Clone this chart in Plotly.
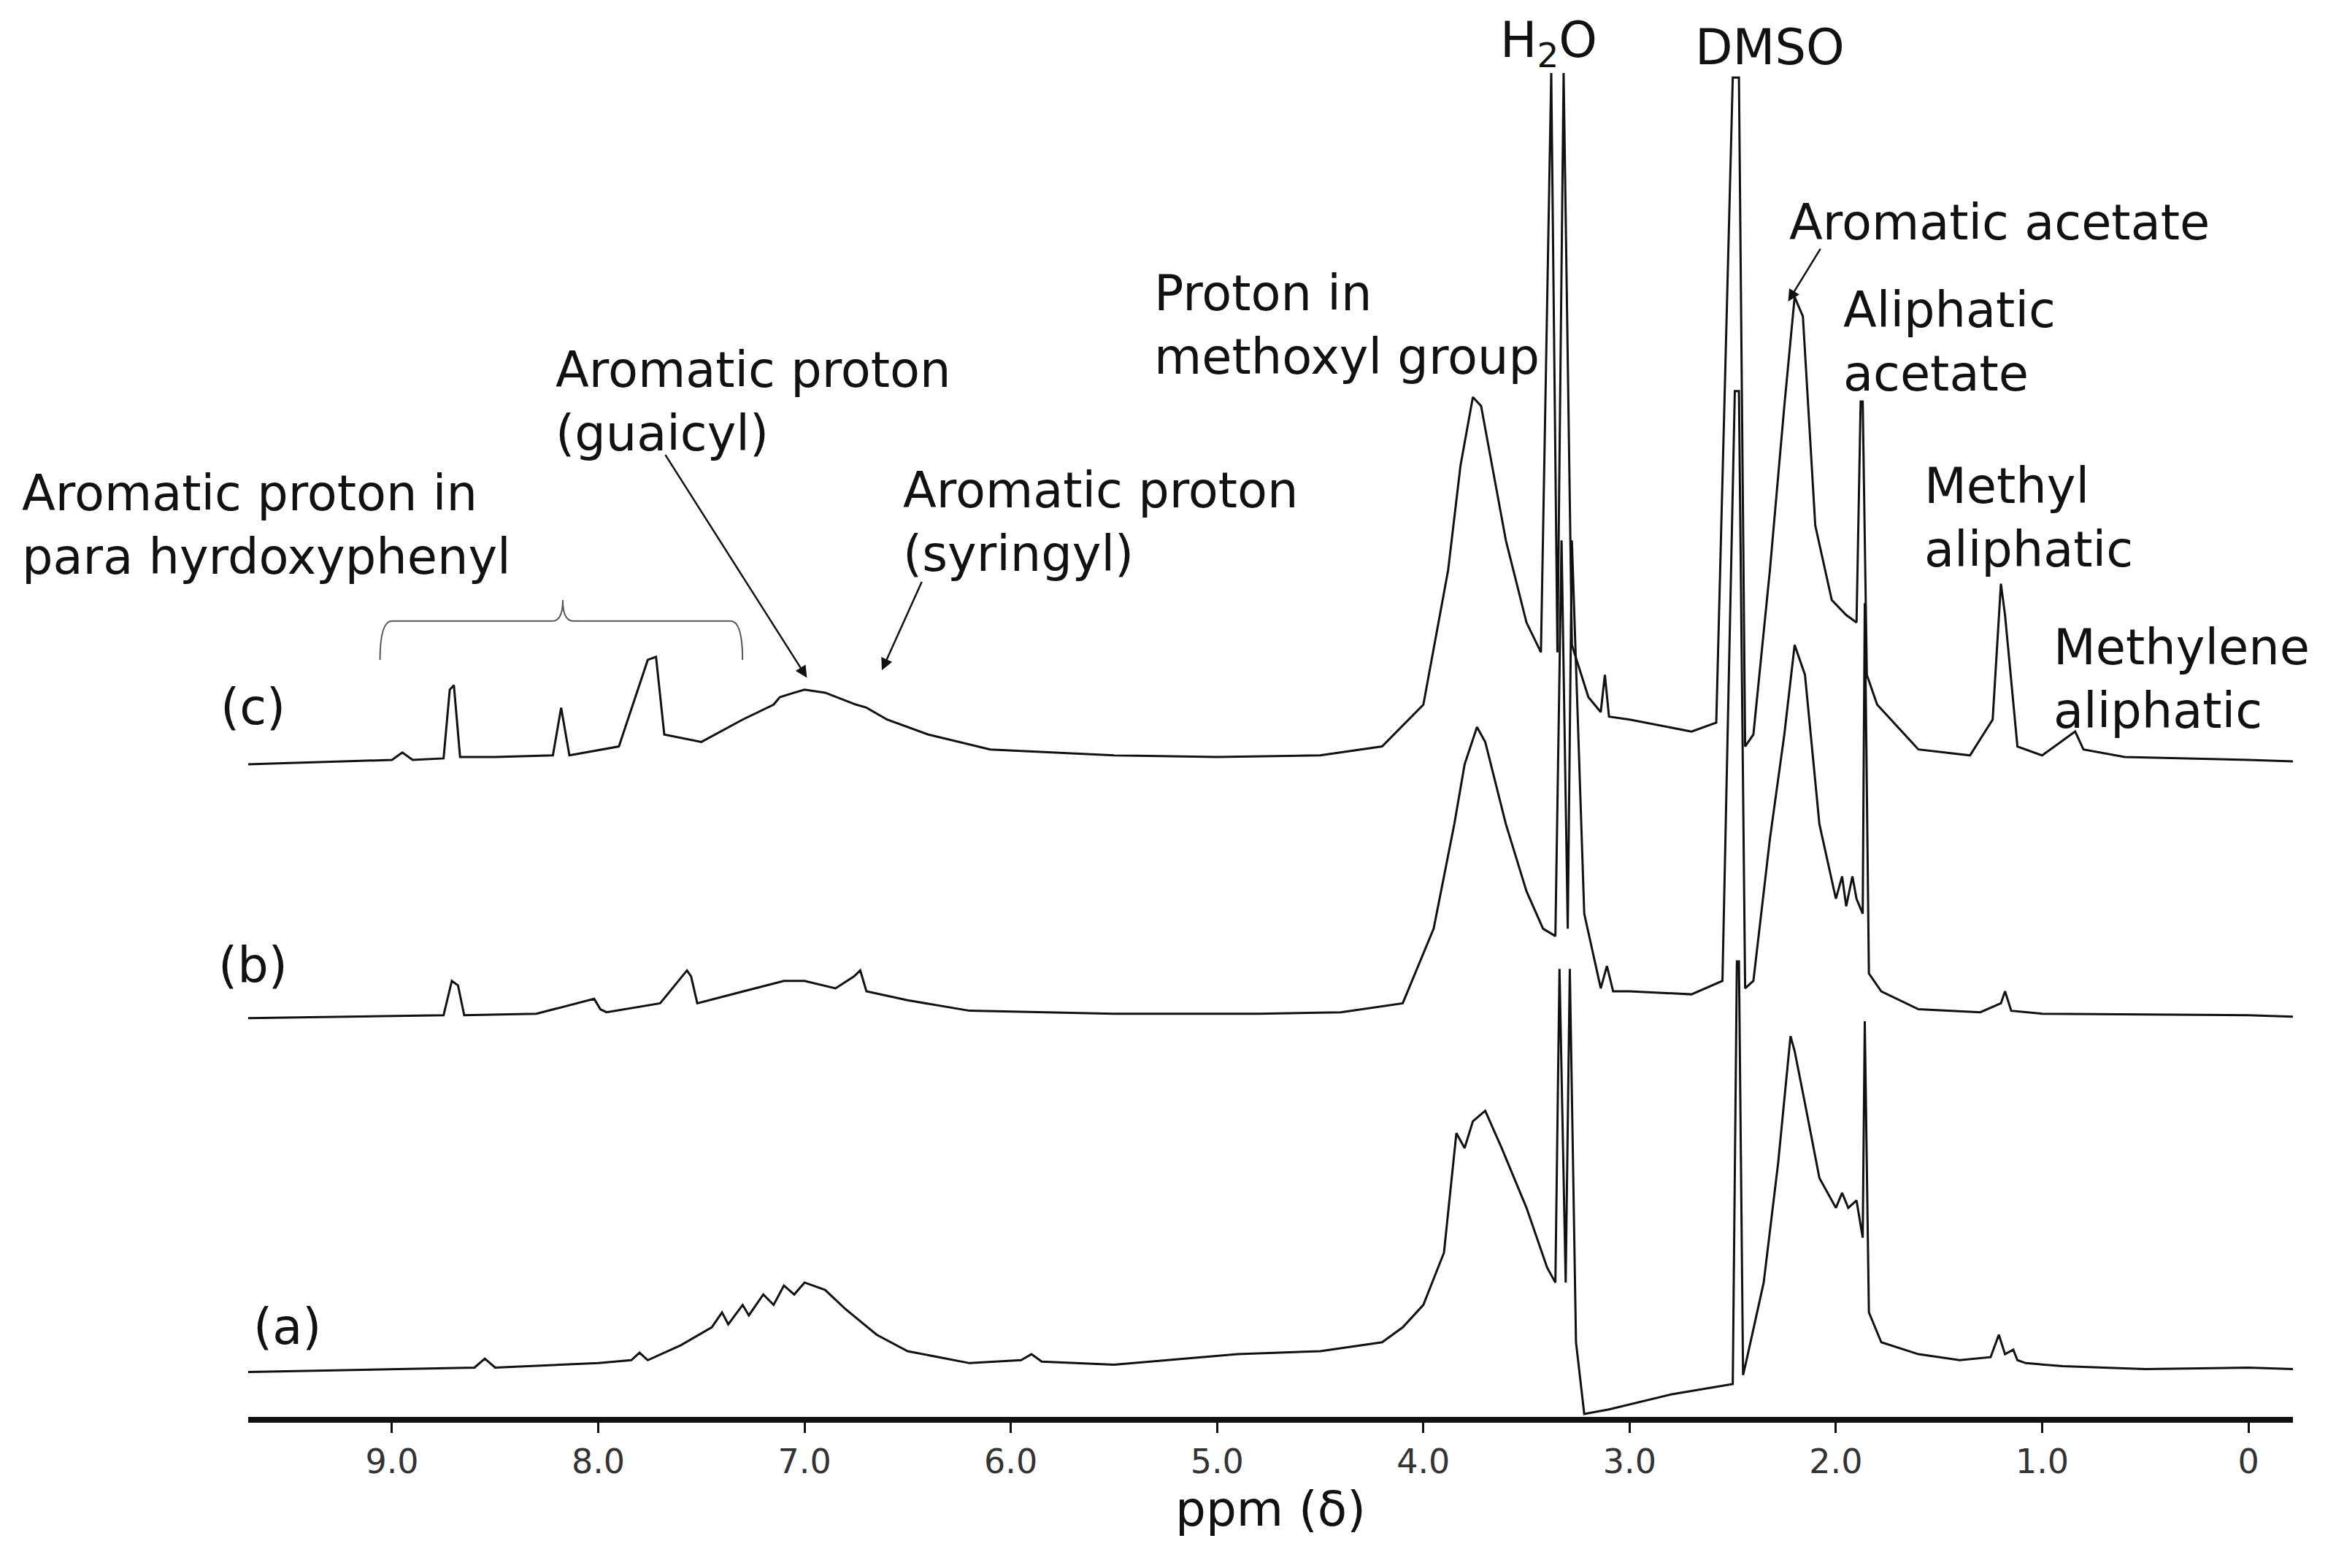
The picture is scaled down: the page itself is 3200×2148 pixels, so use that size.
import plotly.graph_objects as go

# spectrum (a) : ppm, height above its baseline
ppm_a = [9.70, 9.0, 8.6, 8.55, 8.5, 8.0, 7.84, 7.80, 7.76, 7.6, 7.45, 7.40, 7.37, 7.30, 7.27, 7.20, 7.15, 7.10, 7.05, 7.0, 6.9, 6.8, 6.65, 6.5, 6.2, 5.95, 5.9, 5.85, 5.5,
         4.9, 4.5, 4.2, 4.1, 4.0, 3.9, 3.84, 3.80, 3.76, 3.70, 3.62, 3.5, 3.4, 3.36, 3.34, 3.31, 3.29, 3.26, 3.22, 3.1, 2.8, 2.5, 2.48, 2.47, 2.45, 2.43,
         2.35, 2.28, 2.22, 2.20, 2.15, 2.08, 2.0, 1.97, 1.94, 1.90, 1.87, 1.86, 1.84, 1.78, 1.6, 1.4, 1.25, 1.21, 1.18, 1.14, 1.12, 1.08, 0.9, 0.5, 0.0, -0.22]
h_a = [0, 2, 3, 9, 3, 6, 8, 13, 8, 18, 30, 40, 32, 45, 38, 52, 45, 58, 52, 60, 55, 42, 25, 14, 6, 8, 12, 7, 5,
       12, 14, 20, 30, 45, 80, 160, 150, 168, 175, 150, 110, 70, 60, 270, 60, 270, 20, -28, -25, -15, -8, 275, 275, -2, 10,
       60, 140, 225, 215, 180, 130, 110, 120, 110, 115, 90, 235, 40, 20, 12, 8, 10, 25, 12, 15, 8, 6, 4, 2, 3, 2]

# spectrum (b)
ppm_b = [9.70, 8.75, 8.71, 8.68, 8.65, 8.3, 8.02, 7.99, 7.96, 7.7, 7.57, 7.55, 7.52, 7.3, 7.1, 7.0, 6.85, 6.76, 6.73, 6.70, 6.5, 6.2, 5.5, 4.8, 4.4, 4.1,
         3.95, 3.85, 3.80, 3.74, 3.70, 3.6, 3.5, 3.42, 3.36, 3.33, 3.30, 3.28, 3.22, 3.14, 3.11, 3.08, 3.0, 2.7, 2.55, 2.49, 2.47, 2.44, 2.40,
         2.32, 2.25, 2.20, 2.15, 2.08, 2.0, 1.97, 1.95, 1.92, 1.90, 1.87, 1.86, 1.84, 1.78, 1.6, 1.3, 1.20, 1.18, 1.15, 1.0, 0.0, -0.22]
h_b = [0, 2, 25, 22, 2, 3, 13, 6, 4, 10, 32, 28, 10, 18, 25, 25, 20, 28, 32, 18, 12, 5, 3, 3, 4, 10,
       60, 130, 170, 195, 185, 130, 85, 60, 55, 320, 60, 320, 70, 20, 35, 18, 18, 16, 25, 420, 420, 20, 25,
       120, 190, 250, 230, 130, 80, 95, 75, 95, 80, 70, 278, 30, 18, 6, 4, 10, 18, 5, 3, 2, 1]

# spectrum (c)
ppm_c = [9.70, 9.0, 8.95, 8.9, 8.75, 8.72, 8.70, 8.67, 8.5, 8.22, 8.18, 8.14, 7.9, 7.76, 7.72, 7.68, 7.5, 7.3, 7.15, 7.12, 7.05, 7.0, 6.9, 6.75, 6.70, 6.6, 6.4, 6.1, 5.5, 5.0,
         4.5, 4.2, 4.0, 3.88, 3.82, 3.76, 3.72, 3.6, 3.5, 3.43, 3.38, 3.35, 3.32, 3.28, 3.20, 3.14, 3.12, 3.10, 3.0, 2.7, 2.58, 2.50, 2.47, 2.44, 2.40,
         2.32, 2.25, 2.20, 2.16, 2.10, 2.02, 1.95, 1.90, 1.88, 1.87, 1.85, 1.80, 1.6, 1.35, 1.24, 1.20, 1.18, 1.12, 1.0, 0.88, 0.84, 0.80, 0.6, 0.0, -0.22]
h_c = [0, 3, 8, 3, 4, 50, 53, 5, 5, 6, 38, 6, 12, 70, 72, 20, 15, 30, 40, 45, 48, 50, 48, 40, 38, 30, 20, 10, 6, 5,
       6, 12, 40, 130, 200, 246, 240, 150, 95, 75, 463, 75, 463, 80, 45, 35, 60, 32, 30, 22, 28, 460, 460, 12, 20,
       130, 240, 313, 300, 160, 110, 100, 95, 243, 243, 60, 40, 10, 6, 30, 121, 100, 12, 6, 18, 22, 10, 5, 3, 2]

offsets = {"a": 30, "b": 267, "c": 437}
spectra = {"a": (ppm_a, h_a), "b": (ppm_b, h_b), "c": (ppm_c, h_c)}

tick_vals = [9, 8, 7, 6, 5, 4, 3, 2, 1, 0]
tick_text = ["9.0", "8.0", "7.0", "6.0", "5.0", "4.0", "3.0", "2.0", "1.0", "0"]

S = 2.051
FONT = "DejaVu Sans, Arial, sans-serif"


def px(x):
    # image column (1560-wide reference) -> ppm
    return 9 - (x - 258) / 137.7


def py(y):
    return 945 - y


fig = go.Figure()
for key, (xs, hs) in spectra.items():
    fig.add_trace(go.Scatter(x=xs, y=[h + offsets[key] for h in hs], mode="lines",
                             line=dict(color="#111111", width=3), showlegend=False))

labels = [
    ("H<sub>2</sub>O", 1030, 25, "center"),
    ("DMSO", 1178, 28, "center"),
    ("Aromatic acetate", 1190, 145, "left"),
    ("Aliphatic<br>acetate", 1226, 225, "left"),
    ("Methyl<br>aliphatic", 1280, 343, "left"),
    ("Methylene<br>aliphatic", 1366, 451, "left"),
    ("Proton in<br>methoxyl group", 766, 214, "left"),
    ("Aromatic proton<br>(guaicyl)", 366, 265, "left"),
    ("Aromatic proton<br>(syringyl)", 598, 346, "left"),
    ("Aromatic proton in<br>para hyrdoxyphenyl", 10, 348, "left"),
    ("(c)", 165, 470, "center"),
    ("(b)", 165, 643, "center"),
    ("(a)", 188, 885, "center"),
]
for text, x, y, anchor in labels:
    fig.add_annotation(x=(x - 162) / (1527 - 162), y=(945 - y) / 945, xref="paper", yref="paper",
                       text=text, showarrow=False, xanchor=anchor, yanchor="middle",
                       align="left", font=dict(family=FONT, size=67, color="#111111"))

arrows = [((440, 300), (535, 450)), ((612, 385), (585, 445)), ((1212, 162), (1190, 198))]
for (x0, y0), (x1, y1) in arrows:
    fig.add_annotation(x=px(x1), y=py(y1), ax=px(x0), ay=py(y0), axref="x", ayref="y",
                       text="", showarrow=True, arrowhead=2, arrowsize=1.3, arrowwidth=2.5, arrowcolor="#111111")

# curly brace over the para-hydroxyphenyl peaks
bx = [px(250), px(258), px(365), px(372), px(379), px(484), px(492)]
by = [py(438), py(412), py(412), py(398), py(412), py(412), py(438)]
path = f"M {bx[0]},{by[0]} Q {bx[0]},{by[1]} {bx[1]},{by[1]} L {bx[2]},{by[2]} Q {bx[3]},{by[2]} {bx[3]},{by[3]} " \
       f"Q {bx[3]},{by[4]} {bx[4]},{by[4]} L {bx[5]},{by[5]} Q {bx[6]},{by[5]} {bx[6]},{by[6]}"
fig.add_shape(type="path", path=path, xref="x", yref="y", line=dict(color="#555555", width=2))

fig.update_layout(
    width=3200, height=2148,
    margin=dict(l=int(162 * S), r=int(33 * S), t=0, b=int(105 * S)),
    plot_bgcolor="white", paper_bgcolor="white",
    xaxis=dict(range=[px(162), px(1527)], tickvals=tick_vals, ticktext=tick_text,
               showgrid=False, zeroline=False, showline=True, linecolor="#111111", linewidth=8,
               ticks="outside", ticklen=14, tickwidth=3, tickcolor="#111111",
               tickfont=dict(family=FONT, size=46, color="#333333"),
               title=dict(text="ppm (δ)", font=dict(family=FONT, size=66, color="#111111"), standoff=6)),
    yaxis=dict(range=[0, 945], visible=False),
)

fig.write_html("out.html")
